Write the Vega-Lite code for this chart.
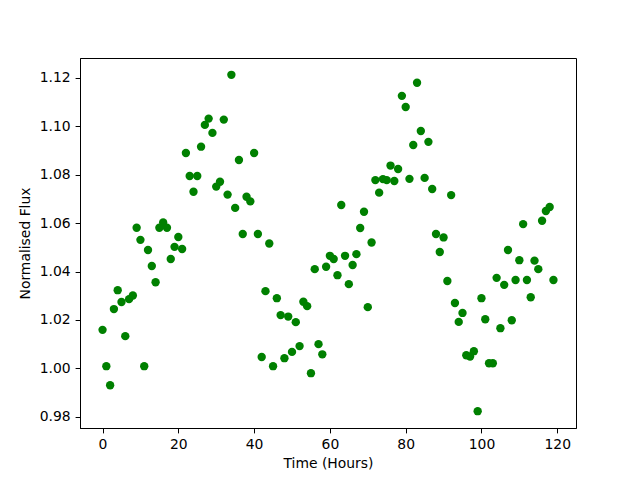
{
  "$schema": "https://vega.github.io/schema/vega-lite/v6.json",
  "width": 496,
  "height": 370,
  "autosize": {"type": "none"},
  "padding": {"left": 80, "top": 58, "right": 64, "bottom": 52},
  "background": "white",
  "config": {
    "view": {"stroke": "black", "strokeWidth": 1},
    "font": "DejaVu Sans",
    "axis": {
      "grid": false,
      "domainColor": "black",
      "domainWidth": 1,
      "tickColor": "black",
      "tickSize": 4.9,
      "tickWidth": 1,
      "labelColor": "black",
      "labelFont": "DejaVu Sans",
      "labelFontSize": 13.9,
      "labelPadding": 4.9,
      "titleColor": "black",
      "titleFont": "DejaVu Sans",
      "titleFontSize": 13.9,
      "titleFontWeight": "normal"
    }
  },
  "data": {
    "values": [
      {"t": 0, "f": 1.0159}, {"t": 1, "f": 1.0009}, {"t": 2, "f": 0.9930}, {"t": 3, "f": 1.0245},
      {"t": 4, "f": 1.0323}, {"t": 5, "f": 1.0274}, {"t": 6, "f": 1.0133}, {"t": 7, "f": 1.0286},
      {"t": 8, "f": 1.0301}, {"t": 9, "f": 1.0581}, {"t": 10, "f": 1.0531}, {"t": 11, "f": 1.0009},
      {"t": 12, "f": 1.0489}, {"t": 13, "f": 1.0423}, {"t": 14, "f": 1.0356}, {"t": 15, "f": 1.0581},
      {"t": 16, "f": 1.0603}, {"t": 17, "f": 1.0581}, {"t": 18, "f": 1.0452}, {"t": 19, "f": 1.0502},
      {"t": 20, "f": 1.0543}, {"t": 21, "f": 1.0493}, {"t": 22, "f": 1.0890}, {"t": 23, "f": 1.0795},
      {"t": 24, "f": 1.0730}, {"t": 25, "f": 1.0795}, {"t": 26, "f": 1.0916}, {"t": 27, "f": 1.1006},
      {"t": 28, "f": 1.1032}, {"t": 29, "f": 1.0973}, {"t": 30, "f": 1.0751}, {"t": 31, "f": 1.0771},
      {"t": 32, "f": 1.1028}, {"t": 33, "f": 1.0718}, {"t": 34, "f": 1.1213}, {"t": 35, "f": 1.0663},
      {"t": 36, "f": 1.0861}, {"t": 37, "f": 1.0555}, {"t": 38, "f": 1.0709}, {"t": 39, "f": 1.0690},
      {"t": 40, "f": 1.0890}, {"t": 41, "f": 1.0555}, {"t": 42, "f": 1.0047}, {"t": 43, "f": 1.0319},
      {"t": 44, "f": 1.0516}, {"t": 45, "f": 1.0009}, {"t": 46, "f": 1.0290}, {"t": 47, "f": 1.0220},
      {"t": 48, "f": 1.0042}, {"t": 49, "f": 1.0214}, {"t": 50, "f": 1.0068}, {"t": 51, "f": 1.0191},
      {"t": 52, "f": 1.0092}, {"t": 53, "f": 1.0275}, {"t": 54, "f": 1.0257}, {"t": 55, "f": 0.9980},
      {"t": 56, "f": 1.0410}, {"t": 57, "f": 1.0100}, {"t": 58, "f": 1.0058}, {"t": 59, "f": 1.0420},
      {"t": 60, "f": 1.0465}, {"t": 61, "f": 1.0452}, {"t": 62, "f": 1.0385}, {"t": 63, "f": 1.0675},
      {"t": 64, "f": 1.0465}, {"t": 65, "f": 1.0348}, {"t": 66, "f": 1.0427}, {"t": 67, "f": 1.0472},
      {"t": 68, "f": 1.0580}, {"t": 69, "f": 1.0647}, {"t": 70, "f": 1.0253}, {"t": 71, "f": 1.0520},
      {"t": 72, "f": 1.0778}, {"t": 73, "f": 1.0726}, {"t": 74, "f": 1.0782}, {"t": 75, "f": 1.0778},
      {"t": 76, "f": 1.0838}, {"t": 77, "f": 1.0774}, {"t": 78, "f": 1.0824}, {"t": 79, "f": 1.1126},
      {"t": 80, "f": 1.1080}, {"t": 81, "f": 1.0783}, {"t": 82, "f": 1.0923}, {"t": 83, "f": 1.1180},
      {"t": 84, "f": 1.0981}, {"t": 85, "f": 1.0787}, {"t": 86, "f": 1.0936}, {"t": 87, "f": 1.0741},
      {"t": 88, "f": 1.0555}, {"t": 89, "f": 1.0481}, {"t": 90, "f": 1.0541}, {"t": 91, "f": 1.0361},
      {"t": 92, "f": 1.0716}, {"t": 93, "f": 1.0270}, {"t": 94, "f": 1.0192}, {"t": 95, "f": 1.0229},
      {"t": 96, "f": 1.0054}, {"t": 97, "f": 1.0049}, {"t": 98, "f": 1.0071}, {"t": 99, "f": 0.9823},
      {"t": 100, "f": 1.0290}, {"t": 101, "f": 1.0203}, {"t": 102, "f": 1.0021}, {"t": 103, "f": 1.0021},
      {"t": 104, "f": 1.0374}, {"t": 105, "f": 1.0166}, {"t": 106, "f": 1.0345}, {"t": 107, "f": 1.0489},
      {"t": 108, "f": 1.0199}, {"t": 109, "f": 1.0365}, {"t": 110, "f": 1.0447}, {"t": 111, "f": 1.0596},
      {"t": 112, "f": 1.0365}, {"t": 113, "f": 1.0294}, {"t": 114, "f": 1.0445}, {"t": 115, "f": 1.0410},
      {"t": 116, "f": 1.0610}, {"t": 117, "f": 1.0650}, {"t": 118, "f": 1.0667}, {"t": 119, "f": 1.0365}
    ]
  },
  "mark": {"type": "point", "filled": true, "shape": "circle", "size": 70, "color": "#008000", "opacity": 1},
  "encoding": {
    "x": {
      "field": "t",
      "type": "quantitative",
      "title": "Time (Hours)",
      "scale": {"domain": [-5.95, 124.95], "nice": false, "zero": false},
      "axis": {"values": [0, 20, 40, 60, 80, 100, 120], "format": "d", "titlePadding": 5}
    },
    "y": {
      "field": "f",
      "type": "quantitative",
      "title": "Normalised Flux",
      "scale": {"domain": [0.97535, 1.12825], "nice": false, "zero": false},
      "axis": {"values": [0.98, 1.0, 1.02, 1.04, 1.06, 1.08, 1.1, 1.12], "format": ".2f", "titlePadding": 7}
    }
  }
}
